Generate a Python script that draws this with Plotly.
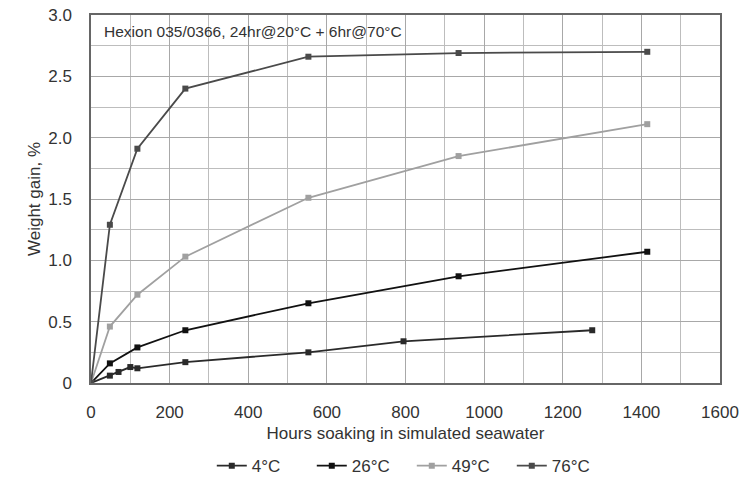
import plotly.graph_objects as go

hours_4 = [0, 48, 70, 100, 118, 240, 553, 795, 1275]
gain_4 = [0, 0.06, 0.09, 0.13, 0.12, 0.17, 0.25, 0.34, 0.43]
hours_26 = [0, 48, 118, 240, 553, 935, 1415]
gain_26 = [0, 0.16, 0.29, 0.43, 0.65, 0.87, 1.07]
hours_49 = [0, 48, 118, 240, 553, 935, 1415]
gain_49 = [0, 0.46, 0.72, 1.03, 1.51, 1.85, 2.11]
hours_76 = [0, 48, 118, 240, 553, 935, 1415]
gain_76 = [0, 1.29, 1.91, 2.40, 2.66, 2.69, 2.70]

names = ["4°C", "26°C", "49°C", "76°C"]
colors = ["#2a2a2a", "#111111", "#a0a0a0", "#4a4a4a"]
series = [(hours_4, gain_4), (hours_26, gain_26), (hours_49, gain_49), (hours_76, gain_76)]

y_ticks = [0, 0.5, 1.0, 1.5, 2.0, 2.5, 3.0]
y_ticktext = ["0", "0.5", "1.0", "1.5", "2.0", "2.5", "3.0"]
x_ticks = [0, 200, 400, 600, 800, 1000, 1200, 1400, 1600]

fig = go.Figure()
for (xs, ys), name, c in zip(series, names, colors):
    fig.add_trace(go.Scatter(
        x=xs, y=ys, name=name, mode="lines+markers",
        line=dict(color=c, width=1.8),
        marker=dict(symbol="square", size=6, color=c),
    ))

font = "Liberation Sans, Arial, sans-serif"
fig.update_layout(
    width=747, height=481,
    margin=dict(l=91, r=27, t=15, b=98),
    paper_bgcolor="white", plot_bgcolor="white",
    font=dict(family=font, size=17, color="#333333"),
    showlegend=True,
    legend=dict(orientation="h", x=0.51, xanchor="center", yref="container", y=0.031, yanchor="middle",
                font=dict(size=17, color="#333333"), entrywidth=55, entrywidthmode="pixels",
                itemwidth=30, tracegroupgap=0),
    xaxis=dict(range=[0, 1600], tickvals=x_ticks, showgrid=True, gridcolor="#a8a8a8", gridwidth=1,
               minor=dict(dtick=100, showgrid=True, gridcolor="#bdbdbd", gridwidth=1),
               showline=True, linecolor="#666666", linewidth=1.5, mirror=True,
               ticks="", ticklabelstandoff=13, zeroline=False, automargin=False,
               tickfont=dict(size=17, color="#333333"),
               title=dict(text="Hours soaking in simulated seawater", font=dict(size=17, color="#333333"), standoff=6)),
    yaxis=dict(range=[0, 3.0], tickvals=y_ticks, ticktext=y_ticktext, showgrid=True, gridcolor="#a8a8a8", gridwidth=1,
               minor=dict(dtick=0.25, showgrid=True, gridcolor="#bdbdbd", gridwidth=1),
               showline=True, linecolor="#666666", linewidth=1.5, mirror=True,
               ticks="", ticklabelstandoff=14, zeroline=False, automargin=False,
               tickfont=dict(size=17, color="#333333"),
               title=dict(text="Weight gain, %", font=dict(size=17, color="#333333"), standoff=3)),
    annotations=[dict(text="Hexion 035/0366, 24hr@20°C + 6hr@70°C", xref="paper", yref="paper",
                      x=0.018, y=0.955, xanchor="left", yanchor="middle", showarrow=False,
                      font=dict(size=15.5, color="#333333"))],
)

fig.write_html("out.html")
